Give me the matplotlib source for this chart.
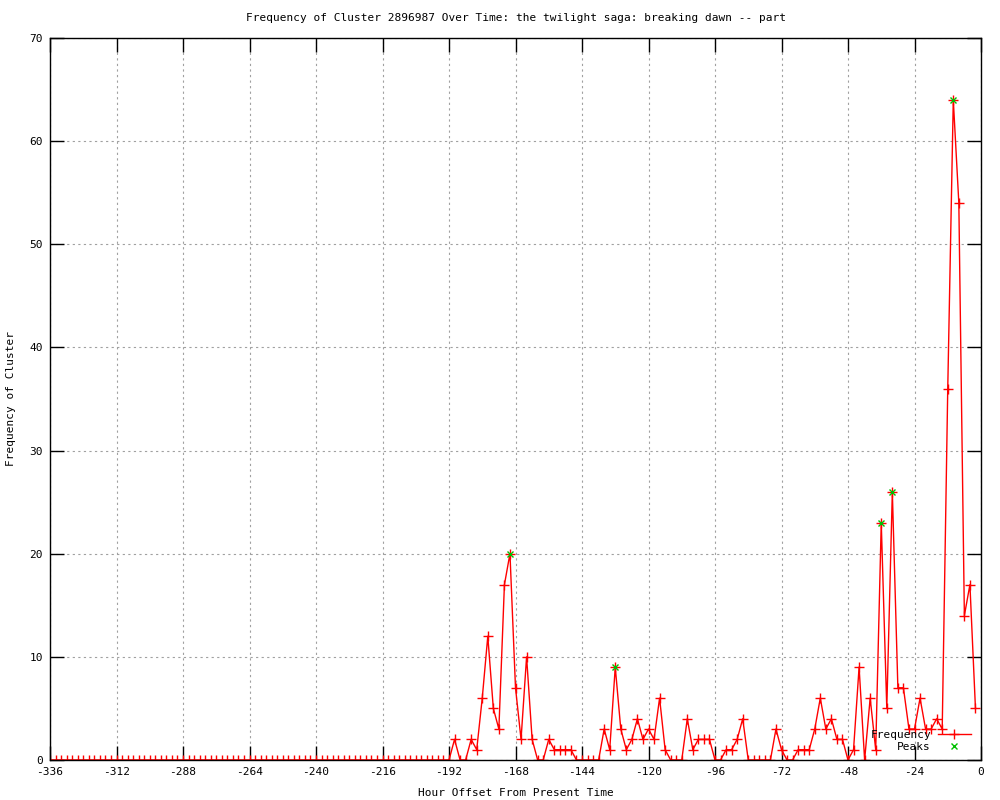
import matplotlib.pyplot as plt
import numpy as np

# hour offsets, one point every 2 hours
hours = list(range(-336, 0, 2))

# frequency per 2-hour bin (-336 .. -2)
freq = [
    0, 0, 0, 0, 0, 0, 0, 0, 0, 0, 0, 0, 0, 0, 0, 0, 0, 0, 0, 0,
    0, 0, 0, 0, 0, 0, 0, 0, 0, 0, 0, 0, 0, 0, 0, 0, 0, 0, 0, 0,
    0, 0, 0, 0, 0, 0, 0, 0, 0, 0, 0, 0, 0, 0, 0, 0, 0, 0, 0, 0,
    0, 0, 0, 0, 0, 0, 0, 0, 0, 0, 0, 0, 0,
    2, 0, 0, 2, 1, 6, 12, 5, 3, 17, 20, 7, 2, 10, 2, 0, 0, 2, 1, 1,
    1, 1, 0, 0, 0, 0, 0, 3, 1, 9, 3, 1, 2, 4, 2, 3, 2, 6, 1, 0,
    0, 0, 4, 1, 2, 2, 2, 0, 0, 1, 1, 2, 4, 0, 0, 0, 0, 0, 3, 1,
    0, 0, 1, 1, 1, 3, 6, 3, 4, 2, 2, 0, 1, 9, 0, 6, 1, 23, 5, 26,
    7, 7, 3, 3, 6, 3, 3, 4, 3, 36, 64, 54, 14, 17, 5,
]

peak_hours = [-170, -132, -36, -32, -10]
peak_freq = [20, 9, 23, 26, 64]

plt.rcParams['font.family'] = ['DejaVu Sans Mono']
plt.rcParams['font.size'] = 8
plt.rcParams['axes.unicode_minus'] = False

fig = plt.figure(figsize=(10, 8), dpi=100)
ax = fig.add_axes([0.05, 0.05, 0.931, 0.9025])

ax.plot(hours, freq, color='red', linewidth=1, marker='+', markersize=6.5,
        markeredgewidth=1, label='Frequency')
ax.plot(peak_hours, peak_freq, linestyle='none', color='#00c000', marker='x',
        markersize=5, markeredgewidth=1, label='Peaks')

ax.set_xlim(-336, 0)
ax.set_ylim(0, 70)
ax.set_xticks(np.arange(-336, 1, 24))
ax.set_yticks(np.arange(0, 71, 10))
ax.tick_params(direction='in', top=True, right=True, length=10, width=1, pad=5)
ax.grid(True, color='#a0a0a0', linestyle=(0, (2, 3)), linewidth=0.8)
ax.set_axisbelow(True)
for s in ax.spines.values():
    s.set_linewidth(1)

ax.set_title('Frequency of Cluster 2896987 Over Time: the twilight saga: breaking dawn -- part',
             fontsize=8, pad=12)
ax.set_xlabel('Hour Offset From Present Time', labelpad=8)
ax.set_ylabel('Frequency of Cluster', labelpad=10)

ax.legend(loc='lower right', bbox_to_anchor=(0.971, 0.06), bbox_transform=fig.transFigure,
          frameon=False, markerfirst=False, handlelength=3, handletextpad=0.6,
          fontsize=8, borderpad=0, borderaxespad=0, labelspacing=0.2)

fig.savefig('out.png')
